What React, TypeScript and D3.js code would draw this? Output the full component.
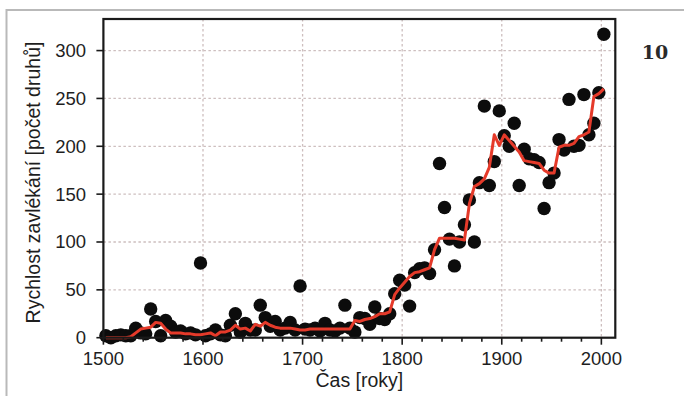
import * as d3 from 'd3'

// 5-year bins, mid-points 1502.5 ... 2002.5
const years = d3.range(1502.5, 2003, 5)

// Rychlost zavlékání (počet druhů) per bin
const rate = [
  2, 0, 2, 3, 2, 2, 10, 5, 4, 30,
  17, 2, 18, 12, 6, 7, 4, 5, 3, 78,
  2, 4, 8, 3, 2, 13, 25, 6, 15, 8,
  8, 34, 21, 12, 17, 8, 10, 16, 8, 54,
  9, 8, 10, 7, 15, 8, 7, 10, 34, 10,
  6, 21, 20, 14, 32, 20, 19, 25, 46, 60,
  55, 33, 68, 72, 73, 67, 92, 182, 136, 103,
  75, 100, 118, 144, 100, 162, 242, 159, 184, 237,
  211, 200, 224, 159, 197, 187, 186, 183, 135, 162,
  172, 207, 196, 249, 200, 201, 254, 212, 224, 256,
  317,
]

// red smoothed line
const trend = [
  0, 0, 0, 0, 0, 1, 5, 9, 10, 11,
  16, 15, 9, 5, 5, 5, 4, 4, 3, 3,
  4, 5, 2, 6, 6, 8, 13, 9, 10, 7,
  14, 12, 16, 13, 11, 10, 10, 10, 9, 8,
  8, 9, 9, 9, 9, 9, 9, 9, 9, 9,
  18, 17, 19, 20, 22, 25, 25, 27, 45, 52,
  58, 64, 68, 69, 71, 73, 92, 104, 104, 104,
  104, 103, 102, 140, 158, 161, 166, 178, 212, 201,
  212, 206, 200, 194, 185, 184, 183, 182, 175, 172,
  172, 199, 201, 201, 203, 210, 212, 215, 252, 255,
  260,
]

const xMajor = [1500, 1600, 1700, 1800, 1900, 2000]
const xMinor = d3.range(1500, 2014, 20)
const yTicks = [0, 50, 100, 150, 200, 250, 300]

const W = 684
const H = 396
const left = 103.4
const right = 615.3
const top = 19
const bottom = 337.7

export default function App() {
  const x = d3.scaleLinear().domain([1500, 2014]).range([left, right])
  const y = d3.scaleLinear().domain([0, 333]).range([bottom, top])

  const line = d3
    .line<number>()
    .x((_, i) => x(years[i]))
    .y(d => y(d))

  const font = 'Liberation Sans, Arial, sans-serif'

  return (
    <div style={{ position: 'absolute', left: 0, top: 0 }}>
      <svg width={W} height={H} viewBox={`0 0 ${W} ${H}`} style={{ display: 'block', background: '#fff' }}>
        {/* outer page border */}
        <path d={`M6.5,${H} V10 H${W}`} fill="none" stroke="#b9b9b9" strokeWidth={2} />

        {/* grid */}
        <g stroke="#cdbebe" strokeWidth={1.3} strokeDasharray="2.5,2.5">
          {xMajor.slice(1).map(t => (
            <line key={'gx' + t} x1={x(t)} x2={x(t)} y1={top} y2={bottom} />
          ))}
          {yTicks.slice(1).map(t => (
            <line key={'gy' + t} x1={left} x2={right} y1={y(t)} y2={y(t)} />
          ))}
        </g>

        {/* points */}
        <g fill="#0c0c0c">
          {rate.map((v, i) => (
            <circle key={i} cx={x(years[i])} cy={y(v)} r={6.7} />
          ))}
        </g>

        {/* smoothed line */}
        <path d={line(trend) ?? ''} fill="none" stroke="#e53a2a" strokeWidth={3} strokeLinejoin="round" />

        {/* frame */}
        <rect x={left} y={top} width={right - left} height={bottom - top} fill="none" stroke="#1a1a1a" strokeWidth={2.2} />

        {/* ticks */}
        <g stroke="#1a1a1a" strokeWidth={1.6}>
          {xMinor.map(t => (
            <line key={'mx' + t} x1={x(t)} x2={x(t)} y1={bottom} y2={bottom + (t % 100 === 0 ? 7 : 4)} />
          ))}
          {yTicks.map(t => (
            <line key={'ty' + t} x1={left - 7} x2={left} y1={y(t)} y2={y(t)} />
          ))}
        </g>

        <g fontFamily={font} fontSize={18.5} fill="#1e1e1e">
          {xMajor.map(t => (
            <text key={'lx' + t} x={x(t)} y={365} textAnchor="middle">
              {t}
            </text>
          ))}
          {yTicks.map(t => (
            <text key={'ly' + t} x={86} y={y(t)} dy="0.35em" textAnchor="end">
              {t}
            </text>
          ))}
        </g>

        <text x={(left + right) / 2} y={387} textAnchor="middle" fontFamily={font} fontSize={19.5} fill="#1e1e1e">
          Čas [roky]
        </text>
        <text
          transform={`translate(40,${(40 + 325) / 2}) rotate(-90)`}
          textAnchor="middle"
          fontFamily={font}
          fontSize={19.5}
          fill="#1e1e1e"
        >
          Rychlost zavlékání [počet druhů]
        </text>

        <text x={655} y={59} textAnchor="middle" fontFamily="DejaVu Serif, serif" fontWeight="bold" fontSize={19} fill="#2a2a2a">
          10
        </text>
      </svg>
    </div>
  )
}
